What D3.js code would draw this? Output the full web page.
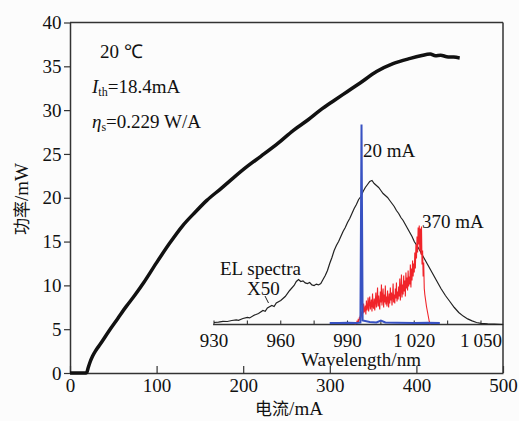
<!DOCTYPE html>
<html>
<head>
<meta charset="utf-8">
<script src="https://cdn.jsdelivr.net/npm/d3@7"></script>
<style>
  body { margin: 0; background: #fcfcfc; }
  svg { display: block; }
</style>
</head>
<body>
<svg id="chart" width="519" height="421"></svg>
<script>
// ---- data ----
// main L-I curve: current (mA), power (mW)
var current = [0, 18, 19.5, 21, 23, 26, 30, 35, 45, 55, 65, 75, 85, 100, 115, 130, 145, 158, 175, 189, 205, 220, 240, 258, 275, 289, 305, 320, 335, 354, 373, 393, 405, 416, 422, 428, 435, 443, 450];
var power   = [0, 0, 0.1, 0.6, 1.2, 1.9, 2.6, 3.3, 4.8, 6.2, 7.6, 8.9, 10.3, 12.6, 14.8, 16.8, 18.4, 19.7, 21.1, 22.3, 23.6, 24.7, 26.2, 27.7, 28.9, 30.0, 31.1, 32.1, 33.1, 34.4, 35.3, 35.9, 36.2, 36.4, 36.2, 36.25, 36.1, 36.05, 35.95];

var xTicks = [0, 100, 200, 300, 400, 500];
var yTicks = [0, 5, 10, 15, 20, 25, 30, 35, 40];

// inset: EL spectrum x50 (black)
var elWave = [930, 932, 934, 936, 938, 940, 941, 943, 945, 946, 948, 950, 952, 953, 954, 956, 957, 958, 960, 962, 964, 966, 967, 968, 969, 970, 971, 972, 973, 974, 975, 976, 977, 978, 979, 980, 981, 982, 983, 984, 985, 986, 987, 988, 989, 990, 991, 992, 993, 994, 995, 996, 997, 998, 999, 1000, 1001, 1002, 1003, 1004, 1005, 1006, 1007, 1008, 1009, 1010, 1011, 1012, 1013, 1014, 1015, 1016, 1017, 1018, 1019, 1020, 1022, 1024, 1026, 1028, 1030, 1032, 1034, 1036, 1038, 1040, 1042, 1044, 1046, 1048, 1050, 1053, 1056, 1060];
var elVal  = [1.0, 1.2, 1.6, 1.5, 2.0, 2.3, 2.1, 3.0, 3.6, 3.3, 4.6, 5.5, 7.0, 6.6, 8.3, 9.5, 9.0, 10.8, 12.0, 14.0, 17.0, 19.5, 21.5, 22.5, 21.5, 21.8, 20.8, 20.5, 21.0, 19.8, 19.5, 20.2, 19.8, 20.5, 22.5, 24.5, 27.0, 30.5, 33.5, 37.0, 39.5, 41.5, 44.0, 46.5, 48.5, 51.0, 53.0, 55.5, 58.0, 60.0, 62.5, 64.0, 66.5, 68.5, 70.0, 71.5, 72.0, 70.5, 69.5, 68.5, 67.0, 65.5, 64.5, 63.5, 62.0, 60.5, 59.0, 57.0, 55.5, 53.5, 52.0, 50.0, 48.0, 46.0, 44.0, 41.5, 38.0, 34.0, 30.0, 26.0, 22.0, 18.0, 14.5, 11.5, 8.5, 6.0, 4.2, 2.8, 1.8, 1.0, 0.6, 0.3, 0.2, 0];

// inset: lasing spectrum at 20 mA (blue)
var blueWave = [982, 986, 990, 994, 995.8, 996.1, 996.3, 996.5, 996.8, 1000, 1003, 1005, 1007, 1012, 1020, 1026, 1031.5];
var blueVal  = [0.8, 0.7, 0.9, 0.8, 1.0, 60, 100, 60, 2.0, 1.2, 1.0, 2.0, 1.0, 0.9, 0.8, 0.9, 0.8];

// inset: lasing spectrum at 370 mA (red), one value every 0.25 nm from 993 nm
var redStart = 993, redStep = 0.25;
var redVal = [
  0.3, 0.6, 0.4, 0.9,     0.7, 1.5, 1.0, 2.2,     1.6, 3.0, 2.2, 4.5,     3.2, 6.5, 4.0, 8.0,
  5.5, 10.5, 6.0, 7.5,    9.5, 5.0, 12.0, 7.0,    8.5, 13.5, 6.5, 11.0,   14.0, 7.5, 10.0, 12.5,
  6.5, 15.5, 9.0, 8.0,    13.0, 7.0, 11.5, 16.0,  8.5, 12.0, 18.5, 9.0,   14.5, 10.0, 7.5, 16.5,
  11.0, 20.0, 9.5, 13.5,  18.0, 8.5, 15.0, 11.0,  19.5, 10.0, 14.0, 9.0,  17.0, 12.5, 8.5, 15.5,
  10.5, 18.5, 12.0, 16.0, 9.5, 14.0, 20.5, 11.0,  15.0, 10.5, 18.0, 13.0, 21.0, 11.5, 16.5, 12.5,
  19.0, 14.0, 23.0, 12.0, 17.5, 25.0, 13.5, 20.0, 15.0, 24.5, 16.5, 22.0, 14.0, 26.0, 18.0, 23.5,
  17.0, 27.0, 19.0, 24.0, 20.0, 30.0, 18.5, 28.0, 22.0, 32.0, 24.0, 30.5, 26.0, 36.0, 28.0, 40.0,
  33.0, 44.0, 36.0, 48.5, 40.0, 49.5, 37.0, 48.0, 35.0, 49.0, 30.0, 37.0, 24.0, 31.0, 18.0, 15.0,
  13.0, 11.0, 9.0, 7.5,   6.0, 4.5, 3.0, 1.5,     0.5, 0.2
];

var insetTicks = [930, 945, 960, 975, 990, 1005, 1020, 1035, 1050];
var insetLabels = [930, 960, 990, 1020, 1050];

var SERIF = "Liberation Serif";
var CJK = "Noto Sans CJK SC";

// ---- drawing ----
var svg = d3.select("#chart");

function label(sel) {
  return sel.attr("font-family", SERIF).attr("font-size", 19).attr("fill", "#111");
}

var x = d3.scaleLinear().domain([0, 500]).range([70, 503]);
var y = d3.scaleLinear().domain([0, 40]).range([373, 22.5]);

// frame top & right
svg.append("line").attr("x1", 70).attr("x2", 503).attr("y1", y(40)).attr("y2", y(40))
  .attr("stroke", "#333").attr("stroke-width", 1.5);
svg.append("line").attr("x1", 503).attr("x2", 503).attr("y1", y(40)).attr("y2", 373)
  .attr("stroke", "#333").attr("stroke-width", 1.5);

var xAxis = svg.append("g").attr("transform", "translate(0,373)")
  .call(d3.axisBottom(x).tickValues(xTicks).tickSizeInner(-7).tickSizeOuter(0).tickPadding(5.5));
var yAxis = svg.append("g").attr("transform", "translate(70,0)")
  .call(d3.axisLeft(y).tickValues(yTicks).tickSizeInner(6).tickSizeOuter(0).tickPadding(2.5));

[xAxis, yAxis].forEach(function(a) {
  a.attr("font-family", SERIF).attr("font-size", 19);
  a.select(".domain").attr("stroke", "#333").attr("stroke-width", 1.5);
  a.selectAll(".tick line").attr("stroke", "#333").attr("stroke-width", 1.2);
  label(a.selectAll("text"));
});

// inset scales
var xi = d3.scaleLinear().domain([930, 1050]).range([214, 481]);
var yi = d3.scaleLinear().domain([0, 100]).range([324.5, 124.5]);

var insetAxis = svg.append("g").attr("transform", "translate(0,324.5)");
insetAxis.append("line").attr("x1", xi(929.6)).attr("x2", 503).attr("stroke", "#333").attr("stroke-width", 1.3);
insetAxis.selectAll("line.t").data(insetTicks).enter().append("line").attr("class", "t")
  .attr("x1", function(d) { return xi(d); }).attr("x2", function(d) { return xi(d); })
  .attr("y1", 0).attr("y2", -4).attr("stroke", "#333").attr("stroke-width", 1.1);
label(insetAxis.selectAll("text").data(insetLabels).enter().append("text"))
  .attr("x", function(d) { return xi(d); }).attr("y", 22)
  .attr("text-anchor", "middle")
  .text(function(d) { return d >= 1000 ? "1\u2009" + String(d).slice(1) : d; });

label(svg.append("text")).attr("x", 361).attr("y", 366).attr("text-anchor", "middle").text("Wavelength/nm");

var lineI = d3.line().x(function(d) { return xi(d[0]); }).y(function(d) { return yi(d[1]); });

svg.append("path").datum(d3.zip(elWave, elVal)).attr("d", lineI)
  .attr("fill", "none").attr("stroke", "#222").attr("stroke-width", 1.2);

var redPts = redVal.map(function(v, i) { return [redStart + i * redStep, v]; });
svg.append("path").datum(redPts).attr("d", lineI)
  .attr("fill", "none").attr("stroke", "#f0242a").attr("stroke-width", 1.1);

svg.append("path").datum(d3.zip(blueWave, blueVal)).attr("d", lineI)
  .attr("fill", "none").attr("stroke", "#3852c2").attr("stroke-width", 2);

// inset annotations
label(svg.append("text")).attr("x", 363).attr("y", 157).text("20 mA");
label(svg.append("text")).attr("x", 422).attr("y", 228).text("370 mA");
label(svg.append("text")).attr("x", 220).attr("y", 275).text("EL spectra");
label(svg.append("text")).attr("x", 247).attr("y", 295).text("X50");
svg.append("line").attr("x1", 265).attr("y1", 296).attr("x2", 268.5).attr("y2", 303)
  .attr("stroke", "#222").attr("stroke-width", 1);

// main L-I curve
var lineM = d3.line().x(function(d) { return x(d[0]); }).y(function(d) { return y(d[1]); })
  .curve(d3.curveMonotoneX);
svg.append("path").datum(d3.zip(current, power)).attr("d", lineM)
  .attr("fill", "none").attr("stroke", "#111").attr("stroke-width", 3.5)
  .attr("stroke-linejoin", "round");

// parameter notes
label(svg.append("text")).attr("x", 100).attr("y", 58).text("20 \u2103");
var t1 = label(svg.append("text")).attr("x", 92).attr("y", 93);
t1.append("tspan").attr("font-style", "italic").text("I");
t1.append("tspan").attr("font-size", 12).attr("dy", 3).text("th");
t1.append("tspan").attr("dy", -3).text("=18.4mA");
var t2 = label(svg.append("text")).attr("x", 92).attr("y", 128);
t2.append("tspan").attr("font-style", "italic").text("\u03b7");
t2.append("tspan").attr("font-size", 12).attr("dy", 3).text("s");
t2.append("tspan").attr("dy", -3).text("=0.229 W/A");

// axis titles
var yt = label(svg.append("text")).attr("transform", "translate(28,199) rotate(-90)")
  .attr("text-anchor", "middle");
yt.append("tspan").attr("font-family", CJK).attr("font-size", 17).text("功率");
yt.append("tspan").text("/mW");
var xt = label(svg.append("text")).attr("x", 289).attr("y", 415).attr("text-anchor", "middle");
xt.append("tspan").attr("font-family", CJK).attr("font-size", 17).text("电流");
xt.append("tspan").text("/mA");
</script>
</body>
</html>
